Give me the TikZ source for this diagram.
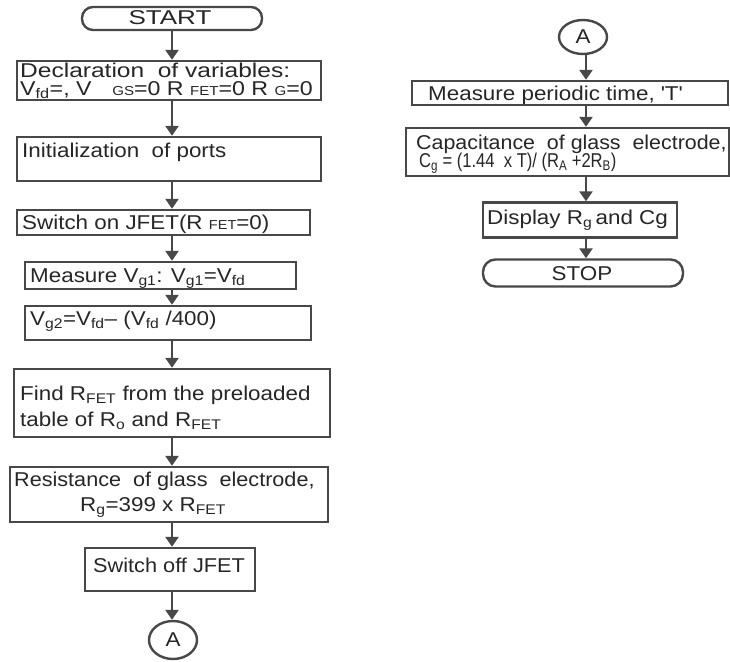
\documentclass[tikz,border=0pt]{standalone}
\usepackage{graphicx}
\usepackage{fontspec}
\setmainfont{Liberation Sans}[FakeStretch=1.12]
\usetikzlibrary{arrows.meta,calc,shapes.geometric}
\definecolor{ln}{RGB}{72,72,72}
\definecolor{tx}{RGB}{38,38,38}
\newcommand{\lo}[1]{\textsubscript{#1}}
\newcommand{\sm}[1]{{\fontsize{13}{13}\selectfont #1}}
\newcommand{\hs}[2]{\scalebox{#1}[1]{#2}}
\begin{document}
\begin{tikzpicture}[x=1pt,y=-1pt,
  box/.style={draw=ln, line width=2.4pt, inner sep=0pt, fill=white},
  term/.style={box, rounded corners=11pt},
  conn/.style={draw=ln, line width=2.4pt, ellipse, inner sep=0pt, text=tx, font=\fontsize{20}{20}\selectfont},
  txt/.style={anchor=base west, inner sep=0pt, text=tx, font=\fontsize{20}{20}\selectfont},
  arr/.style={draw=ln, line width=2.6pt, -{Triangle[width=13pt,length=10pt]}}]
\useasboundingbox (0,0) rectangle (730,661);
\fill[white] (0,0) rectangle (730,661);
\coordinate (cl) at (172,0);
\coordinate (cr) at (586,0);
% left column
\node[term, minimum width=180pt, minimum height=23pt] (start) at (172,18.5) {};
\node[txt, anchor=base] (tstart) at (170,25) {\hs{1.16}{START}};
\node[box, minimum width=304pt, minimum height=39pt] (decl) at (169,80.5) {};
\node[txt] (tdecl1) at (20,77.5) {\hs{1.095}{Declaration\ \ of variables:}};
\node[txt] (tdecl2) at (20,95) {\hs{1.035}{V\lo{fd}=, V\hspace{20pt}\sm{GS}=0 R \sm{FET}=0 R \sm{G}=0}};
\node[box, minimum width=304pt, minimum height=44pt] (init) at (169,159) {};
\node[txt] (tinit) at (22,157) {Initialization\ \ of ports};
\node[box, minimum width=293pt, minimum height=25pt] (swon) at (163.5,222.5) {};
\node[txt] (tswon) at (22,229) {Switch on JFET(R \sm{FET}=0)};
\node[box, minimum width=271pt, minimum height=27pt] (meas) at (160.5,275.5) {};
\node[txt] (tmeas) at (30,282) {Measure V\lo{g1}: V\lo{g1}=V\lo{fd}};
\node[box, minimum width=286pt, minimum height=34pt] (vg2) at (168,323) {};
\node[txt] (tvg2) at (30,325) {V\lo{g2}=V\lo{fd}– (V\lo{fd} /400)};
\node[box, minimum width=316pt, minimum height=68pt] (find) at (172,403) {};
\node[txt] (tfind1) at (20,400) {Find R\lo{FET} from the preloaded};
\node[txt] (tfind2) at (20,426) {table of R\lo{o} and R\lo{FET}};
\node[box, minimum width=318pt, minimum height=55pt] (res) at (169,494.5) {};
\node[txt] (tres1) at (14,486) {\hs{0.965}{Resistance\ \ of glass\ \ electrode,}};
\node[txt] (tres2) at (80,511) {R\lo{g}=399 x R\lo{FET}};
\node[box, minimum width=170pt, minimum height=43pt] (swoff) at (170,569.5) {};
\node[txt] (tswoff) at (93,572) {\hs{0.97}{Switch off JFET}};
\node[conn, minimum width=48pt, minimum height=38pt] (al) at (173,640) {A};
% right column
\node[conn, minimum width=48pt, minimum height=34pt] (ar) at (583,37) {A};
\node[box, minimum width=316pt, minimum height=24pt] (mpt) at (570,93) {};
\node[txt] (tmpt) at (428,100) {Measure periodic time, \textquotesingle T\textquotesingle};
\node[box, minimum width=323pt, minimum height=48pt] (cap) at (567.5,152) {};
\node[txt] (tcap1) at (416,149) {\hs{0.955}{Capacitance\ \ of glass\ \ electrode,}};
\node[txt] (tcap2) at (419,167.5) {\hs{0.74}{C\lo{g} = (1.44\ \ x T)/ (R\lo{A} +2R\lo{B})}};
\node[box, minimum width=194pt, minimum height=35pt] (disp) at (580,220) {};
\node[txt] (tdisp) at (487,224) {Display R\lo{g}\,and Cg};
\node[term, minimum width=200pt, minimum height=27pt, rounded corners=12.5pt] (stop) at (583,273) {};
\node[txt, anchor=base] (tstop) at (582,280) {STOP};
% connectors
\draw[arr] (start.south -| cl) -- (decl.north -| cl);
\draw[arr] (decl.south -| cl) -- (init.north -| cl);
\draw[arr] (init.south -| cl) -- (swon.north -| cl);
\draw[arr] (swon.south -| cl) -- (meas.north -| cl);
\draw[arr] (meas.south -| cl) -- (vg2.north -| cl);
\draw[arr] (vg2.south -| cl) -- (find.north -| cl);
\draw[arr] (find.south -| cl) -- (res.north -| cl);
\draw[arr] (res.south -| cl) -- (swoff.north -| cl);
\draw[arr] (swoff.south -| cl) -- (al.north -| cl);
\draw[arr] (ar.south -| cr) -- (mpt.north -| cr);
\draw[arr] (mpt.south -| cr) -- (cap.north -| cr);
\draw[arr] (cap.south -| cr) -- (disp.north -| cr);
\draw[arr] (disp.south -| cr) -- (stop.north -| cr);
\end{tikzpicture}
\end{document}
